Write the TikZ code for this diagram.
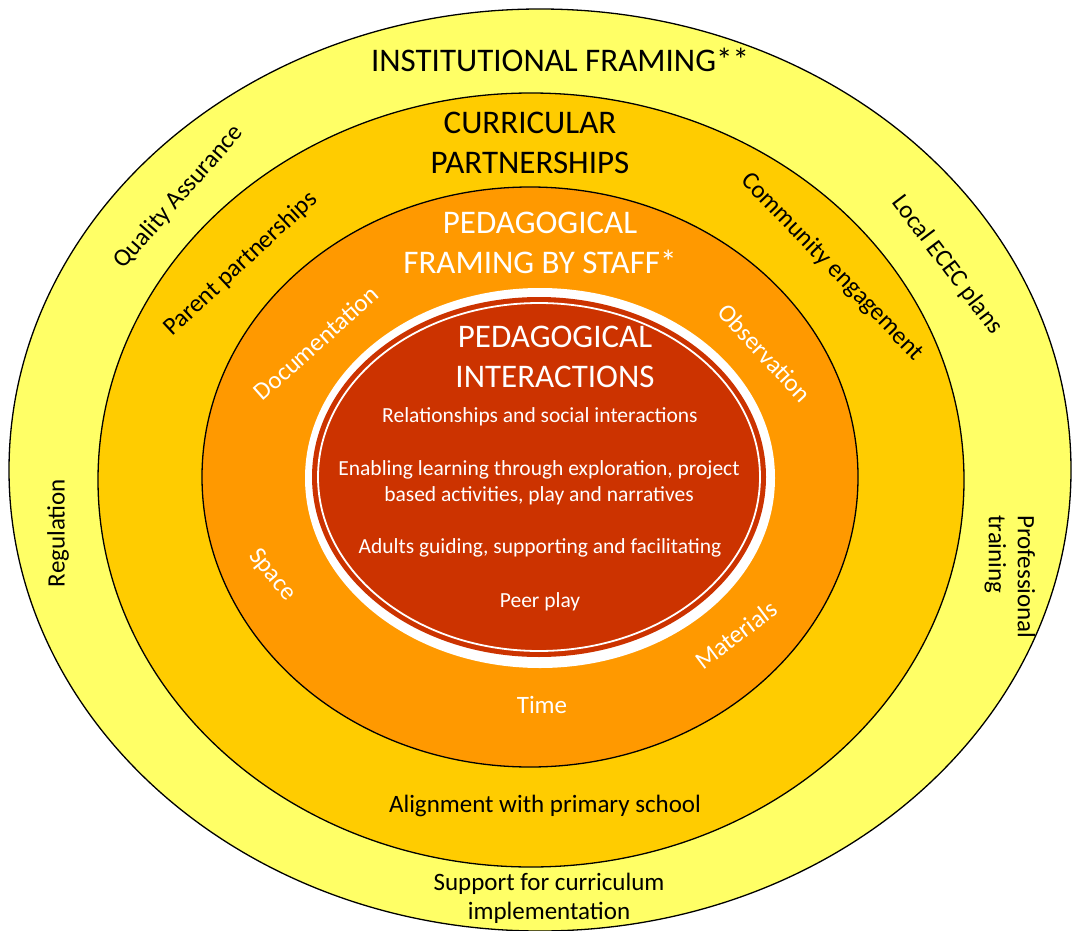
\documentclass[tikz,border=0pt]{standalone}
\usepackage{fontspec}
\setmainfont{Carlito}
\usepackage{xcolor}
\usepackage{tikz}
\usetikzlibrary{positioning}
\definecolor{institution}{HTML}{FFFF66}
\definecolor{curricular}{HTML}{FFCC00}
\definecolor{staffring}{HTML}{FF9900}
\definecolor{interred}{HTML}{CC3300}

\begin{document}
\begin{tikzpicture}[x=1pt,y=-1pt,
  ring/.style={draw=black,line width=1.3pt},
  head/.style={font=\fontsize{33}{40}\selectfont,align=center},
  lbl/.style={font=\fontsize{25}{29}\selectfont},
  core/.style={font=\fontsize{21.5}{26}\selectfont,text=white,align=center}]
 	\useasboundingbox (0,0) rectangle (1081,931);
 	% rings, outside in
 	\filldraw[ring,fill=institution] (540,470) ellipse [x radius=531pt,y radius=461pt];
 	\filldraw[ring,fill=curricular] (531,480) ellipse [x radius=433pt,y radius=387pt];
 	\filldraw[ring,fill=staffring] (530,477) ellipse [x radius=328pt,y radius=290pt];
 	\fill[white] (540,478) ellipse [x radius=235pt,y radius=190pt];
 	\fill[interred] (539,477) ellipse [x radius=227pt,y radius=180pt];
 	\draw[white,line width=1.8pt] (539,477) ellipse [x radius=221pt,y radius=174pt];
 	% headings
 	\node[head] (inst) at (560,60) {INSTITUTIONAL FRAMING**};
 	\node[head] (curr) at (530,143) {CURRICULAR\\PARTNERSHIPS};
 	\node[head,text=white] (staff) at (540,243) {PEDAGOGICAL\\FRAMING BY STAFF*};
 	\node[head,text=white] (inter) at (555,357) {PEDAGOGICAL\\INTERACTIONS};
 	% core
 	\node[core] (rel) at (540,417) {Relationships and social interactions};
 	\node[core] (enab) at (539,483) {Enabling learning through exploration, project\\based activities, play and narratives};
 	\node[core] (adult) at (540,548) {Adults guiding, supporting and facilitating};
 	\node[core] (peer) at (540,602) {Peer play};
 	% institutional ring
 	\node[lbl,rotate=48.7] (qa) at (179,197) {Quality Assurance};
 	\node[lbl,rotate=-53] (local) at (947,265) {Local ECEC plans};
 	\node[lbl,rotate=90] (reg) at (58,533) {Regulation};
 	\node[lbl,rotate=-90,align=left] (prof) at (1010,577) {Professional\\training};
 	\node[lbl,align=center] (supp) at (549,898) {Support for curriculum\\implementation};
 	% curricular ring
 	\node[lbl,rotate=43] (parent) at (241,264) {Parent partnerships};
 	\node[lbl,rotate=-46] (comm) at (832,267) {Community engagement};
 	\node[lbl] (align) at (545,806) {Alignment with primary school};
 	% staff ring
 	\node[lbl,text=white,rotate=41.7] (doc) at (316,343) {Documentation};
 	\node[lbl,text=white,rotate=-47] (obs) at (765,353) {Observation};
 	\node[lbl,text=white,rotate=-50] (space) at (272,575) {Space};
 	\node[lbl,text=white,rotate=37] (mat) at (736,635) {Materials};
 	\node[lbl,text=white] (time) at (542,705) {Time};
\end{tikzpicture}
\end{document}
